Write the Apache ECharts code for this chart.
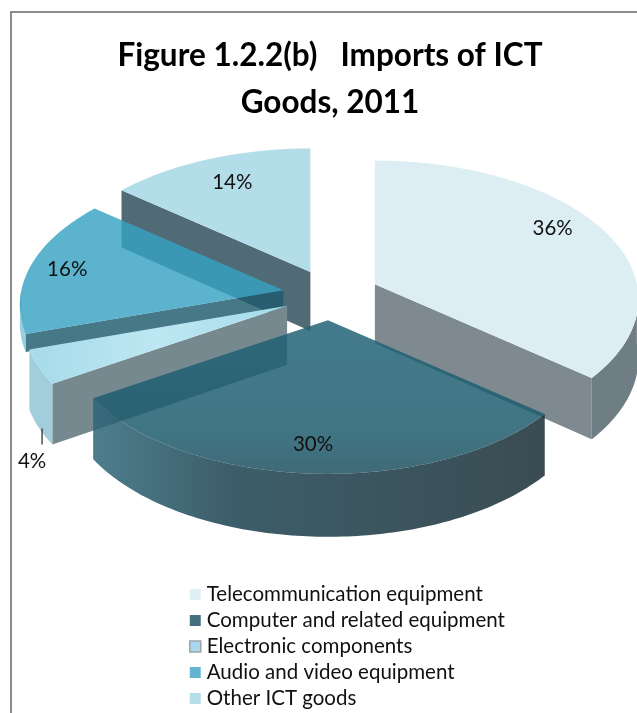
<!DOCTYPE html>
<html><head><meta charset="utf-8">
<style>html,body{margin:0;padding:0;background:#fff}#c{width:637px;height:713px}</style>
<script src="https://cdn.jsdelivr.net/npm/echarts@6/dist/echarts.min.js"></script>
</head><body><div id="c"></div>
<script>
const categories = ['Telecommunication equipment','Computer and related equipment','Electronic components','Audio and video equipment','Other ICT goods'];
const shares = [36, 30, 4, 16, 14];
const titleLines = 'Figure 1.2.2(b)   Imports of ICT\nGoods, 2011';

const topFill = [
  '#dcedf3',
  new echarts.graphic.LinearGradient(0,0,0,1,[{offset:0,color:'#1f6276'},{offset:.75,color:'#1c5a6c'},{offset:1,color:'#1c4d5c'}]),
  new echarts.graphic.LinearGradient(0,0,1,0,[{offset:0,color:'#a6dbe9'},{offset:.5,color:'#bde7f2'},{offset:1,color:'#a3dcea'}]),
  '#37a2c2', '#b3dde9'];
const faceFill = ['#7f8a90','', '#76898f', '#1f5a6e', '#506b75'];
const wallFill = [
  '#6f7d84',
  new echarts.graphic.LinearGradient(0,0,1,0,[{offset:0,color:'#2b6578'},{offset:.3,color:'#173f4d'},{offset:1,color:'#152a32'}]),
  '#a2cedb','#7cc3d8','#b3dde9'];
const opac = [1,.84,1,.82,1];
const visibleDepth = [1,1,1,.3,1];
const legendColors = ['#dff0f5','#44707f','#a9d8ec','#63b5cf','#b7dde8'];
const labelFrac = [[.75,.95],[.91,.91],[1.076,2.67],[.84,.8],[.7,.72]];
const drawOrder = [4,3,2,0,1];

const C = {x:331,y:295,rx:262,ry:137,p:.108,explode:.185,depth:59};
const total = shares.reduce((a,b)=>a+b,0);
const starts = []; shares.reduce((acc,v,i)=>{starts[i]=acc;return acc+v;},0);
const deg = v => v/total*360;
function unit(t){const r=t*Math.PI/180;return [Math.sin(r),-Math.cos(r)];}

function renderSlice(i){
  const a=deg(starts[i]), b=deg(starts[i]+shares[i]), mid=(a+b)/2;
  const m=unit(mid);
  const ax=C.x+C.explode*C.rx*m[0], ay=C.y+C.explode*C.ry*m[1];
  const rim=t=>{const u=unit(t),s=1/(1-C.p*u[1]);return [ax+C.rx*u[0]*s, ay+C.ry*u[1]*s];};
  const k=visibleDepth[i];
  const down=p=>{const Y=(p[1]-ay)/C.ry;return [p[0],p[1]+C.depth*k*Math.sqrt(1/(1-C.p*Y))];};
  const arc=(f,g)=>{const out=[];const n=Math.max(2,Math.ceil(g-f));for(let q=0;q<=n;q++)out.push(rim(f+(g-f)*q/n));return out;};
  const kids=[];
  const poly=(pts,fill,alpha)=>kids.push({type:'polygon',shape:{points:pts},style:{fill,opacity:alpha,stroke:null}});
  const face=t=>{const r=rim(t);poly([[ax,ay],r,down(r),down([ax,ay])],faceFill[i],opac[i]);};
  if(a>180&&a<360) face(a);
  if(b>0&&b<180) face(b);
  const f=Math.max(a,90), g=Math.min(b,270);
  if(g>f){const w=arc(f,g);poly(w.concat(w.map(down).reverse()),wallFill[i],opac[i]);}
  poly([[ax,ay]].concat(arc(a,b)),topFill[i],opac[i]);
  const lp=[ax+labelFrac[i][0]*C.rx*m[0], ay+labelFrac[i][1]*C.ry*m[1]];
  kids.push({type:'text',z2:50,style:{text:shares[i]+'%',x:lp[0],y:lp[1],align:'center',verticalAlign:'middle',font:'20.5px Lato',fill:'#111'}});
  if(shares[i]<5) kids.push({type:'line',z2:50,shape:{x1:lp[0]+10,y1:lp[1]-33,x2:lp[0]+10,y2:lp[1]-17},style:{stroke:'#222',lineWidth:1.2}});
  return {type:'group',children:kids};
}

const series = drawOrder.map(i=>({
  type:'custom', name:categories[i], coordinateSystem:'none', silent:true,
  itemStyle:{color:legendColors[i]},
  data:[[shares[i]]], renderItem:()=>renderSlice(i)
}));

const chart = echarts.init(document.getElementById('c'),null,{renderer:'canvas'});
chart.setOption({
  animation:false, backgroundColor:'#fff',
  title:{text:titleLines,left:330,textAlign:'center',top:32,padding:0,
    textStyle:{fontFamily:'Lato',fontWeight:'bold',fontSize:31.5,color:'#000',lineHeight:47}},
  legend:{orient:'vertical',left:189,top:584,padding:0,itemWidth:11,itemHeight:11,itemGap:5,selectedMode:false,
    icon:'rect',
    data:categories.map((n,i)=>({name:n,itemStyle:i===2?{color:legendColors[i],borderColor:'#9aa5aa',borderWidth:1.5}:{color:legendColors[i]}})),
    textStyle:{fontFamily:'Lato',fontSize:20.5,color:'#111',padding:[0,0,0,1],lineHeight:20}},
  graphic:[{type:'polyline',silent:true,shape:{points:[[11,720],[11,12],[640,12]]},style:{stroke:'#8c8c8c',lineWidth:2,fill:null}}],
  series
});
</script></body></html>
